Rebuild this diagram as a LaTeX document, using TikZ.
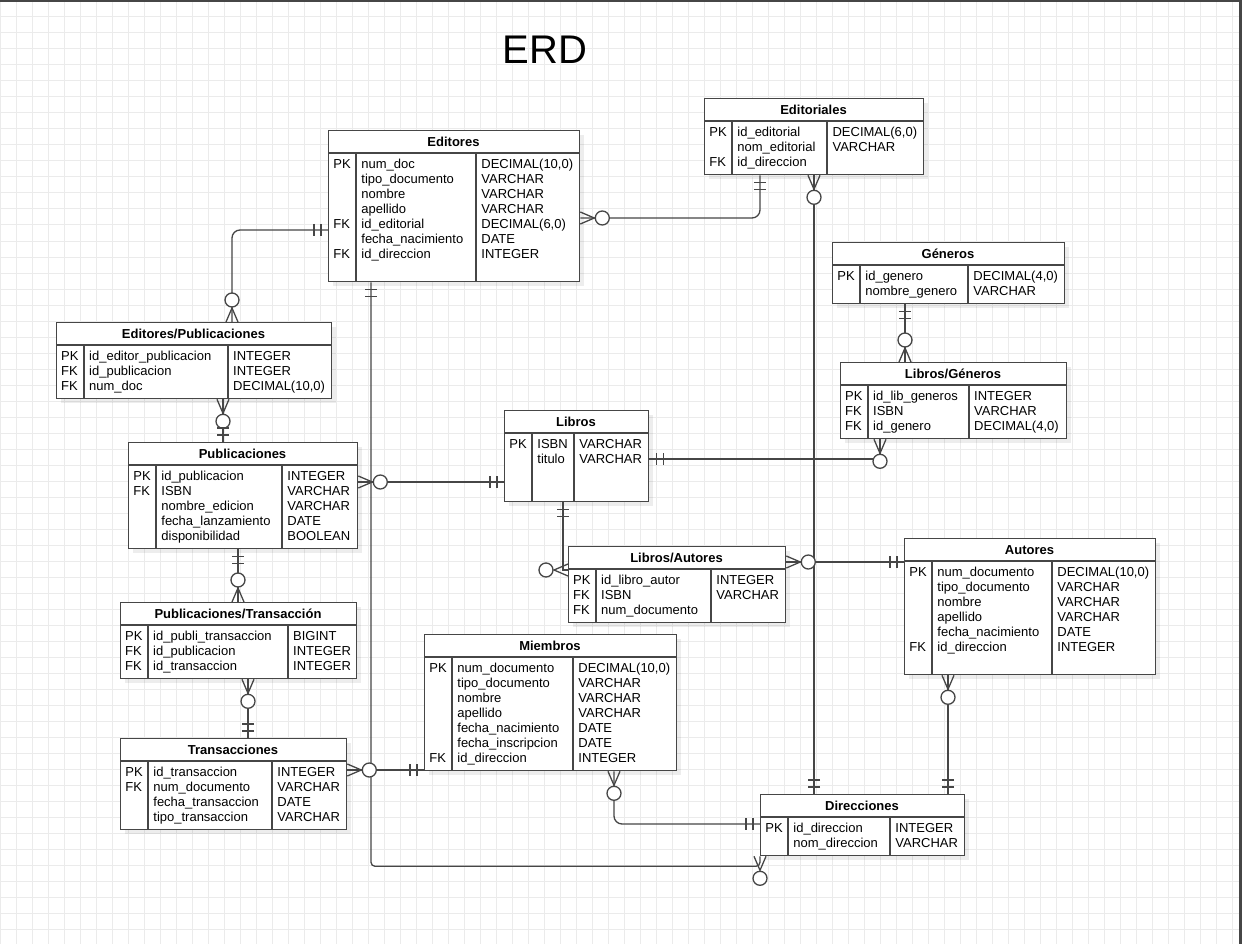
\documentclass[tikz,border=0pt]{standalone}
\usepackage{fontspec}
\setmainfont{Liberation Sans}
\usetikzlibrary{matrix}

\definecolor{erdgray}{RGB}{70,70,70}
\definecolor{gridgray}{RGB}{235,235,235}
\newcommand\erdfont{\fontsize{13}{15}\selectfont}

% #1 name, #2/#3 top left, #4/#5 bottom right, #6/#7 column lines, #8 title, #9 rows
\newcommand\erdtable[9]{%
  \fill[erdshadow] (#2+5,#3+5) rectangle (#4+5,#5+5);
  \node[erdbox, minimum width={#4-#2}, minimum height={#5-#3}] (#1) at (#2,#3) {};
  \node[erdtitle] (#1-title) at ({(#2+#4)/2},#3+11.5) {#8};
  \draw[erdline] (#2,#3+23) -- (#4,#3+23)
    (#6,#3+23) -- (#6,#5)
    (#7,#3+23) -- (#7,#5);
  \pgfmathsetmacro\erdwa{#6-#2-10}%
  \pgfmathsetmacro\erdwb{#7-#6-10}%
  \pgfmathsetmacro\erdwc{#4-#7-10}%
  \matrix[erdrows] (#1-rows) at (#2,#3+28) {#9};
}
% zero or many, #1 point on the table, #2 direction away from it
\newcommand\erdmany[2]{%
  \begin{scope}[shift={(#1)}, rotate=#2]
    \draw[erdline] (0,6) -- (14,0) -- (0,-6);
    \draw[erdline, fill=white] (22,0) circle[radius=7];
  \end{scope}}
% exactly one
\newcommand\erdone[2]{%
  \begin{scope}[shift={(#1)}, rotate=#2]
    \draw[erdline] (7,6) -- (7,-6) (14,6) -- (14,-6);
  \end{scope}}

\begin{document}
\begin{tikzpicture}[x=1pt, y=-1pt,
  erdline/.style={draw=erdgray, line width=1.3pt},
  erdbox/.style={erdline, fill=white, inner sep=0, anchor=north west},
  erdshadow/.style={fill=black, opacity=0.07},
  erdtitle/.style={font=\bfseries\erdfont, inner sep=0, text height=9.4, text depth=0},
  erdrows/.style={matrix of nodes, ampersand replacement=\&, anchor=north west,
    inner sep=0, row sep=0, column sep=0,
    nodes={inner xsep=5, inner ysep=0, text height=10.5, text depth=4.5,
      anchor=base west, align=left, font=\erdfont},
    column 1/.style={nodes={text width=\erdwa pt}},
    column 2/.style={nodes={text width=\erdwb pt}},
    column 3/.style={nodes={text width=\erdwc pt}}},
  bigtitle/.style={font=\fontsize{40}{48}\selectfont, inner sep=0}
]
  \useasboundingbox (0,0) rectangle (1242,944);
  \fill[white] (0,0) rectangle (1242,944);

  % grid
  \foreach \gx in {0,16,...,1232}
    \draw[gridgray, line width=1pt] (\gx,0) -- (\gx,944);
  \foreach \gy in {1,17,...,937}
    \draw[gridgray, line width=1pt] (0,\gy) -- (1242,\gy);
  \fill[erdgray] (0,0) rectangle (1242,2);
  \fill[erdgray] (1239,0) rectangle (1242,944);

  \node[bigtitle] (erd) at (545,50) {ERD};

  % tables
  \erdtable{editores}{328}{130}{579}{281}{356}{476}{Editores}{%
    PK \& num\_doc \& DECIMAL(10,0) \\
    \& tipo\_documento \& VARCHAR \\
    \& nombre \& VARCHAR \\
    \& apellido \& VARCHAR \\
    FK \& id\_editorial \& DECIMAL(6,0) \\
    \& fecha\_nacimiento \& DATE \\
    FK \& id\_direccion \& INTEGER \\}
  \erdtable{editoriales}{704}{98}{923}{174}{732}{827}{Editoriales}{%
    PK \& id\_editorial \& DECIMAL(6,0) \\
    \& nom\_editorial \& VARCHAR \\
    FK \& id\_direccion \& \\}
  \erdtable{generos}{832}{242}{1064}{303}{860}{968}{Géneros}{%
    PK \& id\_genero \& DECIMAL(4,0) \\
    \& nombre\_genero \& VARCHAR \\}
  \erdtable{libgeneros}{840}{362}{1066}{438}{868}{969}{Libros/Géneros}{%
    PK \& id\_lib\_generos \& INTEGER \\
    FK \& ISBN \& VARCHAR \\
    FK \& id\_genero \& DECIMAL(4,0) \\}
  \erdtable{edpub}{56}{322}{331}{398}{84}{228}{Editores/Publicaciones}{%
    PK \& id\_editor\_publicacion \& INTEGER \\
    FK \& id\_publicacion \& INTEGER \\
    FK \& num\_doc \& DECIMAL(10,0) \\}
  \erdtable{libros}{504}{410}{648}{501}{532}{574}{Libros}{%
    PK \& ISBN \& VARCHAR \\
    \& titulo \& VARCHAR \\}
  \erdtable{publicaciones}{128}{442}{357}{548}{156}{282}{Publicaciones}{%
    PK \& id\_publicacion \& INTEGER \\
    FK \& ISBN \& VARCHAR \\
    \& nombre\_edicion \& VARCHAR \\
    \& fecha\_lanzamiento \& DATE \\
    \& disponibilidad \& BOOLEAN \\}
  \erdtable{libautores}{568}{546}{785}{622}{596}{711}{Libros/Autores}{%
    PK \& id\_libro\_autor \& INTEGER \\
    FK \& ISBN \& VARCHAR \\
    FK \& num\_documento \& \\}
  \erdtable{autores}{904}{538}{1155}{674}{932}{1052}{Autores}{%
    PK \& num\_documento \& DECIMAL(10,0) \\
    \& tipo\_documento \& VARCHAR \\
    \& nombre \& VARCHAR \\
    \& apellido \& VARCHAR \\
    \& fecha\_nacimiento \& DATE \\
    FK \& id\_direccion \& INTEGER \\}
  \erdtable{pubtrans}{120}{602}{356}{678}{148}{288}{Publicaciones/Transacción}{%
    PK \& id\_publi\_transaccion \& BIGINT \\
    FK \& id\_publicacion \& INTEGER \\
    FK \& id\_transaccion \& INTEGER \\}
  \erdtable{miembros}{424}{634}{676}{770}{452}{573}{Miembros}{%
    PK \& num\_documento \& DECIMAL(10,0) \\
    \& tipo\_documento \& VARCHAR \\
    \& nombre \& VARCHAR \\
    \& apellido \& VARCHAR \\
    \& fecha\_nacimiento \& DATE \\
    \& fecha\_inscripcion \& DATE \\
    FK \& id\_direccion \& INTEGER \\}
  \erdtable{transacciones}{120}{738}{346}{829}{148}{272}{Transacciones}{%
    PK \& id\_transaccion \& INTEGER \\
    FK \& num\_documento \& VARCHAR \\
    \& fecha\_transaccion \& DATE \\
    \& tipo\_transaccion \& VARCHAR \\}
  \erdtable{direcciones}{760}{794}{964}{855}{788}{890}{Direcciones}{%
    PK \& id\_direccion \& INTEGER \\
    \& nom\_direccion \& VARCHAR \\}

  % connector ends
  \coordinate (ed-edl) at ([yshift=-88pt]editores.north east);
  \coordinate (edl-ed) at ([xshift=56pt]editoriales.south west);
  \coordinate (edl-dir) at ([xshift=110pt]editoriales.south west);
  \coordinate (dir-edl) at ([xshift=54pt]direcciones.north west);
  \coordinate (ed-edp) at ([yshift=-100pt]editores.north west);
  \coordinate (edp-ed) at ([xshift=176pt]edpub.north west);
  \coordinate (ed-dir) at ([xshift=43pt]editores.south west);
  \coordinate (dir-ed) at (direcciones.south west);
  \coordinate (edp-pub) at ([xshift=167pt]edpub.south west);
  \coordinate (pub-edp) at ([xshift=95pt]publicaciones.north west);
  \coordinate (pub-lib) at ([yshift=-40pt]publicaciones.north east);
  \coordinate (lib-pub) at ([yshift=-72pt]libros.north west);
  \coordinate (lib-lg) at ([yshift=-49pt]libros.north east);
  \coordinate (lg-lib) at ([xshift=40pt]libgeneros.south west);
  \coordinate (gen-lg) at ([xshift=73pt]generos.south west);
  \coordinate (lg-gen) at ([xshift=65pt]libgeneros.north west);
  \coordinate (lib-la) at ([xshift=59pt]libros.south west);
  \coordinate (la-lib) at ([yshift=-24pt]libautores.north west);
  \coordinate (la-aut) at ([yshift=-16pt]libautores.north east);
  \coordinate (aut-la) at ([yshift=-24pt]autores.north west);
  \coordinate (pub-pt) at ([xshift=110pt]publicaciones.south west);
  \coordinate (pt-pub) at ([xshift=118pt]pubtrans.north west);
  \coordinate (pt-tr) at ([xshift=128pt]pubtrans.south west);
  \coordinate (tr-pt) at ([xshift=128pt]transacciones.north west);
  \coordinate (tr-mie) at ([yshift=-32pt]transacciones.north east);
  \coordinate (mie-tr) at ([yshift=-136pt]miembros.north west);
  \coordinate (mie-dir) at ([xshift=190pt]miembros.south west);
  \coordinate (dir-mie) at ([yshift=-30pt]direcciones.north west);
  \coordinate (aut-dir) at ([xshift=44pt]autores.south west);
  \coordinate (dir-aut) at ([xshift=188pt]direcciones.north west);

  % connectors
  \draw[erdline, rounded corners=8] (ed-edl) -| (edl-ed);
  \draw[erdline] (edl-dir) -- (dir-edl);
  \draw[erdline, rounded corners=8] (ed-edp) -| (edp-ed);
  \draw[erdline, rounded corners=4] (ed-dir) |- ([yshift=-10pt]dir-ed) -- (dir-ed);
  \draw[erdline] (edp-pub) -- (pub-edp);
  \draw[erdline] (pub-lib) -- (lib-pub);
  \draw[erdline] (lib-lg) -| (lg-lib);
  \draw[erdline] (gen-lg) -- (lg-gen);
  \draw[erdline] (lib-la) |- (la-lib);
  \draw[erdline] (la-aut) -- (aut-la);
  \draw[erdline] (pub-pt) -- (pt-pub);
  \draw[erdline] (pt-tr) -- (tr-pt);
  \draw[erdline] (tr-mie) -- (mie-tr);
  \draw[erdline, rounded corners=8] (mie-dir) |- (dir-mie);
  \draw[erdline] (aut-dir) -- (dir-aut);

  % crow's feet
  \erdmany{ed-edl}{0}      \erdone{edl-ed}{-90}
  \erdmany{edl-dir}{-90}   \erdone{dir-edl}{90}
  \erdone{ed-edp}{180}     \erdmany{edp-ed}{90}
  \erdone{ed-dir}{-90}     \erdmany{dir-ed}{-90}
  \erdmany{edp-pub}{-90}   \erdone{pub-edp}{90}
  \erdmany{pub-lib}{0}     \erdone{lib-pub}{180}
  \erdone{lib-lg}{0}       \erdmany{lg-lib}{-90}
  \erdone{gen-lg}{-90}     \erdmany{lg-gen}{90}
  \erdone{lib-la}{-90}     \erdmany{la-lib}{180}
  \erdmany{la-aut}{0}      \erdone{aut-la}{180}
  \erdone{pub-pt}{-90}     \erdmany{pt-pub}{90}
  \erdmany{pt-tr}{-90}     \erdone{tr-pt}{90}
  \erdmany{tr-mie}{0}      \erdone{mie-tr}{180}
  \erdmany{mie-dir}{-90}   \erdone{dir-mie}{180}
  \erdmany{aut-dir}{-90}   \erdone{dir-aut}{90}
\end{tikzpicture}
\end{document}
